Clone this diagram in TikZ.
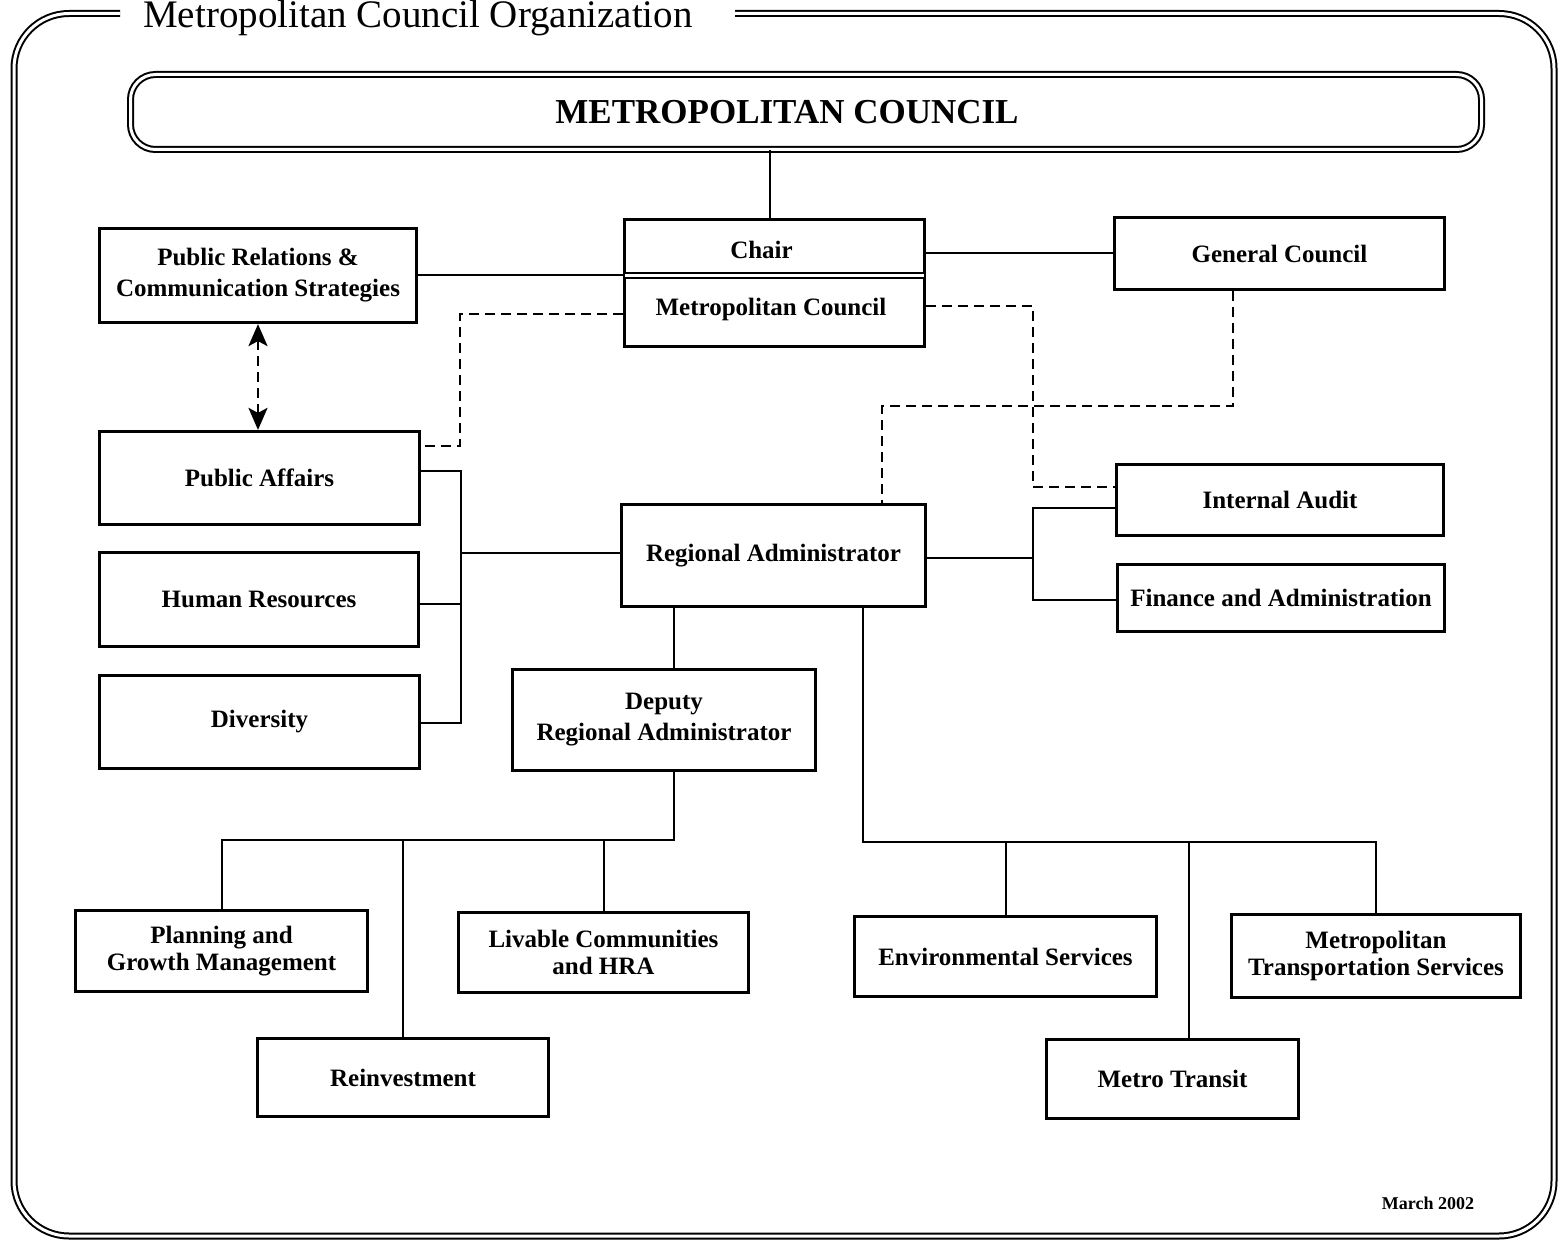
\documentclass[tikz,border=0pt]{standalone}
\usepackage{fontspec}
\setmainfont{Liberation Serif}
\usetikzlibrary{arrows.meta,calc}
\newcommand\bxfont{\fontsize{25}{31}\selectfont\bfseries}
\newcommand\bxfonttight{\fontsize{25}{27}\selectfont\bfseries}
\begin{document}
\begin{tikzpicture}[x=1pt,y=-1pt,
  box/.style={draw, line width=3.2pt, align=center, font=\bxfont, inner sep=0pt},
  tightbox/.style={box, font=\bxfonttight},
  conn/.style={line width=2pt},
  dashline/.style={line width=2.6pt, dash pattern=on 10pt off 6pt},
  dbl/.style={draw, double, line width=2pt, double distance=3pt},
  bothtips/.style={>={Stealth[length=22pt,width=19pt,inset=5pt]}, <->}]
\useasboundingbox[fill=white] (0,0) rectangle (1563,1241);

% outer frame with title gap
\draw[dbl, rounded corners=55pt] (120,13.5) -- (14,13.5) -- (14,1236) -- (1554,1236) -- (1554,13.5) -- (735,13.5);
\node[anchor=base west, font=\fontsize{39}{39}\selectfont, inner sep=0pt] (title) at (143,28) {Metropolitan Council Organization};

% top council
\node[dbl, rounded corners=25pt, minimum width=1351pt, minimum height=75pt, font=\fontsize{35}{35}\selectfont\bfseries] (MC) at (806,112) {\hspace*{-38pt}METROPOLITAN COUNCIL};

% boxes
\node[box, minimum width=300pt, minimum height=127pt] (Chair) at (774.5,283) {};
\draw[double, line width=1.8pt, double distance=2.5pt] ([xshift=2pt]Chair.west |- 0,275.5) -- ([xshift=-2pt]Chair.east |- 0,275.5);
\node[font=\bxfont, inner sep=0pt] (chairtxt) at (761.5,250) {Chair};
\node[font=\bxfont, inner sep=0pt] (mctxt) at (771,309) {Metropolitan Council};

\node[box, minimum width=317pt, minimum height=94pt] (PR) at (258,275.5) {Public Relations \&\\Communication Strategies};
\node[box, minimum width=330pt, minimum height=72pt] (GC) at (1279.5,253.5) {General Council};
\node[box, minimum width=320pt, minimum height=93pt] (PA) at (259.5,478) {Public Affairs};
\node[box, minimum width=319pt, minimum height=94pt] (HR) at (259,599.5) {Human Resources};
\node[box, minimum width=320pt, minimum height=93pt] (DV) at (259.5,722) {Diversity};
\node[box, minimum width=304pt, minimum height=102pt] (RA) at (773.5,555.5) {Regional Administrator};
\node[box, minimum width=327pt, minimum height=71pt] (IA) at (1280,500) {Internal Audit};
\node[box, minimum width=327pt, minimum height=67pt] (FA) at (1281,598) {Finance and Administration};
\node[box, minimum width=303pt, minimum height=101pt] (DP) at (664,720) {Deputy\\Regional Administrator};
\node[tightbox, minimum width=292pt, minimum height=81pt] (PG) at (221.5,951) {Planning and\\Growth Management};
\node[tightbox, minimum width=290pt, minimum height=80pt] (LC) at (603.5,952.5) {Livable Communities\\and HRA};
\node[box, minimum width=291pt, minimum height=78pt] (RI) at (403,1077.5) {Reinvestment};
\node[box, minimum width=302pt, minimum height=80pt] (ES) at (1005.5,956.5) {Environmental Services};
\node[tightbox, minimum width=289pt, minimum height=83pt] (MTS) at (1376,956) {Metropolitan\\Transportation Services};
\node[box, minimum width=252pt, minimum height=79pt] (MT) at (1172.5,1079) {Metro Transit};

\node[font=\fontsize{18}{18}\selectfont\bfseries, inner sep=0pt] (date) at (1428,1203) {March 2002};

% solid connectors
\draw[conn] ([xshift=-4.5pt]Chair.north) -- ([xshift=-4.5pt]Chair.north |- MC.south);
\draw[conn] (PR.east) -- (PR.east -| Chair.west);
\draw[conn] (Chair.east |- GC.west) -- (GC.west);

\coordinate (lbus) at (461,553);
\draw[conn] (PA.east |- 0,471) -| (lbus |- 0,723) -- (DV.east |- 0,723);
\draw[conn] (HR.east |- 0,604) -- (lbus |- 0,604);
\draw[conn] (lbus) -- (RA.west |- lbus);

\coordinate (rbus) at (1033,558);
\draw[conn] (RA.east |- rbus) -- (rbus);
\draw[conn] (IA.west |- 0,508) -| (rbus |- 0,600) -- (FA.west |- 0,600);

\draw[conn] (RA.south -| 674,0) -- (DP.north -| 674,0);
\coordinate (dbus) at (674,840);
\draw[conn] (DP.south -| dbus) -- (dbus) -- (dbus -| PG.north) -- (PG.north);
\draw[conn] (dbus -| RI.north) -- (RI.north);
\draw[conn] (dbus -| LC.north) -- (LC.north);

\coordinate (ebus) at (863,842);
\draw[conn] (RA.south -| ebus) -- (ebus) -- (ebus -| MTS.north) -- (MTS.north);
\draw[conn] (ebus -| ES.north) -- (ES.north);
\draw[conn] (ebus -| 1189,0) -- (MT.north -| 1189,0);

% dashed connectors
\draw[dashline] (Chair.west |- 0,314) -- (460,314) -- (460,446) -- (PA.east |- 0,446);
\draw[dashline] (Chair.east |- 0,306) -- (1033,306) -- (1033,487) -- (IA.west |- 0,487);
\draw[dashline] (GC.south -| 1233,0) -- (1233,406) -- (882,406) -- (RA.north -| 882,0);
\draw[dashline, bothtips] (PR.south) -- (PR.south |- PA.north);
\end{tikzpicture}
\end{document}
